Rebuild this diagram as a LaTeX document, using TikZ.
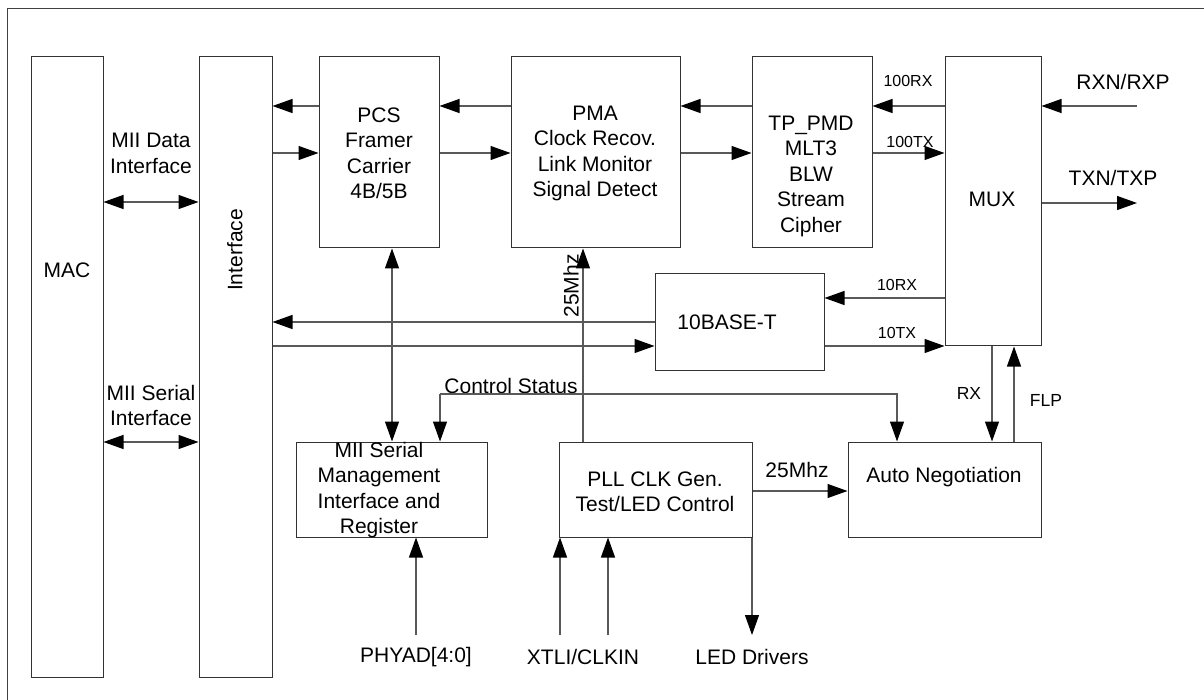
\documentclass[tikz,border=0pt]{standalone}
\usepackage{fontspec}
\setmainfont{Liberation Sans}
\usetikzlibrary{fit,arrows.meta}
\begin{document}
\begin{tikzpicture}[x=1pt,y=-1pt,
  blk/.style={draw=black!80,line width=1pt,inner sep=0pt,fill=none},
  txt/.style={inner sep=0pt,align=center,font=\fontsize{21pt}{25.5pt}\selectfont},
  smalltxt/.style={inner sep=0pt,font=\fontsize{16pt}{19pt}\selectfont},
  midtxt/.style={inner sep=0pt,font=\fontsize{17.5pt}{20pt}\selectfont},
  conn/.style={draw=black!65,line width=1.2pt},
  arr/.style={conn,-{Triangle[length=20pt,width=14pt,color=black]}},
  darr/.style={conn,{Triangle[length=20pt,width=14pt,color=black]}-{Triangle[length=20pt,width=14pt,color=black]}},
  framest/.style={draw=black!75,line width=1pt}]
\useasboundingbox (0,0) rectangle (1204,700);
\draw[framest] (7,700) -- (7,9) -- (1204,9);

% blocks
\node[blk,fit={(31,57) (103,677)}] (mac) {};
\node[blk,fit={(199,57) (272,677)}] (iface) {};
\node[blk,fit={(319,57) (439,248)}] (pcs) {};
\node[blk,fit={(511,57) (680,248)}] (pma) {};
\node[blk,fit={(752,57) (872,248)}] (tpmd) {};
\node[blk,fit={(945,57) (1041,346)}] (mux) {};
\node[blk,fit={(655,274) (824,370)}] (tenb) {};
\node[blk,fit={(296,442) (487,537)}] (mii) {};
\node[blk,fit={(559,442) (752,537)}] (pll) {};
\node[blk,fit={(848,442) (1041,537)}] (an) {};

% block texts
\node[txt] (tmac) at (67,270) {MAC};
\node[txt,rotate=90] (tif) at (235,250) {Interface};
\node[txt] (tpcs) at (379,153.5) {PCS\\Framer\\Carrier\\4B/5B};
\node[txt] (tpma) at (595,153.5) {PMA\\Clock Recov.\\Link Monitor\\Signal Detect};
\node[txt] (ttp) at (811,176) {TP\_PMD\\MLT3\\BLW\\Stream\\Cipher};
\node[txt] (tmux) at (992,199) {MUX};
\node[txt] (tten) at (727,322) {10BASE-T};
\node[txt] (tmii) at (379,490) {MII Serial\\Management\\Interface and\\Register};
\node[txt] (tpll) at (655,492) {PLL CLK Gen.\\Test/LED Control};
\node[txt] (tan) at (944,477) {Auto Negotiation};

% labels
\node[txt] (lmd) at (151,153.5) {MII Data\\Interface};
\node[txt] (lms) at (151,405.5) {MII Serial\\Interface};
\node[smalltxt] (l100rx) at (908,81) {100RX};
\node[smalltxt] (l100tx) at (910,142) {100TX};
\node[smalltxt] (l10rx) at (897,285) {10RX};
\node[smalltxt] (l10tx) at (897,333) {10TX};
\node[txt] (lrxn) at (1123,82) {RXN/RXP};
\node[txt] (ltxn) at (1113,178) {TXN/TXP};
\node[txt] (lcs) at (511,386) {Control Status};
\node[txt,rotate=90] (l25v) at (571,286) {25Mhz};
\node[txt] (l25h) at (797,470) {25Mhz};
\node[midtxt] (lrx) at (969,393) {RX};
\node[midtxt] (lflp) at (1046,400) {FLP};
\node[txt] (lphy) at (416,657) {PHYAD[4:0]};
\node[txt] (lxtl) at (583,657) {XTLI/CLKIN};
\node[txt] (lled) at (752,657) {LED Drivers};

% reference coordinates
\coordinate (yA) at (0,106);
\coordinate (yB) at (0,153);
\coordinate (yTX) at (0,203);
\coordinate (yMD) at (0,202);
\coordinate (yMS) at (0,442);
\coordinate (y10r) at (0,298);
\coordinate (yIfr) at (0,322);
\coordinate (y10t) at (0,346);
\coordinate (y25) at (0,491);
\coordinate (xPcs) at (392,0);
\coordinate (x25) at (583,0);
\coordinate (xRX) at (992,0);
\coordinate (xFLP) at (1014,0);
\coordinate (xPhy) at (416,0);
\coordinate (xX1) at (560,0);
\coordinate (xX2) at (608,0);
\coordinate (xLed) at (752,0);
\coordinate (rxnEnd) at (1137,106);
\coordinate (txnEnd) at (1137,203);
\coordinate (phyEnd) at (416,635);
\coordinate (x1End) at (560,635);
\coordinate (x2End) at (608,635);
\coordinate (ledEnd) at (752,635);
\coordinate (csL) at (440,394);
\coordinate (csR) at (897,394);

% top data path
\draw[arr] (pcs.west |- yA) -- (iface.east |- yA);
\draw[arr] (iface.east |- yB) -- (pcs.west |- yB);
\draw[arr] (pma.west |- yA) -- (pcs.east |- yA);
\draw[arr] (pcs.east |- yB) -- (pma.west |- yB);
\draw[arr] (tpmd.west |- yA) -- (pma.east |- yA);
\draw[arr] (pma.east |- yB) -- (tpmd.west |- yB);
\draw[arr] (mux.west |- yA) -- (tpmd.east |- yA);
\draw[arr] (tpmd.east |- yB) -- (mux.west |- yB);
\draw[arr] (rxnEnd) -- (mux.east |- rxnEnd);
\draw[arr] (mux.east |- txnEnd) -- (txnEnd);

% MAC - Interface
\draw[darr] (mac.east |- yMD) -- (iface.west |- yMD);
\draw[darr] (mac.east |- yMS) -- (iface.west |- yMS);

% 10BASE-T
\draw[arr] (mux.west |- y10r) -- (tenb.east |- y10r);
\draw[arr] (tenb.east |- y10t) -- (mux.west |- y10t);
\draw[arr] (tenb.west |- yIfr) -- (iface.east |- yIfr);
\draw[arr] (iface.east |- y10t) -- (tenb.west |- y10t);

% verticals
\draw[darr] (pcs.south -| xPcs) -- (mii.north -| xPcs);
\draw[arr] (pll.north -| x25) -- (pma.south -| x25);
\draw[arr] (csL) -- (mii.north -| csL);
\draw[arr] (csL) -- (csR) -- (an.north -| csR);
\draw[arr] (mux.south -| xRX) -- (an.north -| xRX);
\draw[arr] (an.north -| xFLP) -- (mux.south -| xFLP);
\draw[arr] (pll.east |- y25) -- (an.west |- y25);
\draw[arr] (phyEnd) -- (mii.south -| phyEnd);
\draw[arr] (x1End) -- (pll.south -| x1End);
\draw[arr] (x2End) -- (pll.south -| x2End);
\draw[arr] (pll.south -| ledEnd) -- (ledEnd);
\end{tikzpicture}
\end{document}
